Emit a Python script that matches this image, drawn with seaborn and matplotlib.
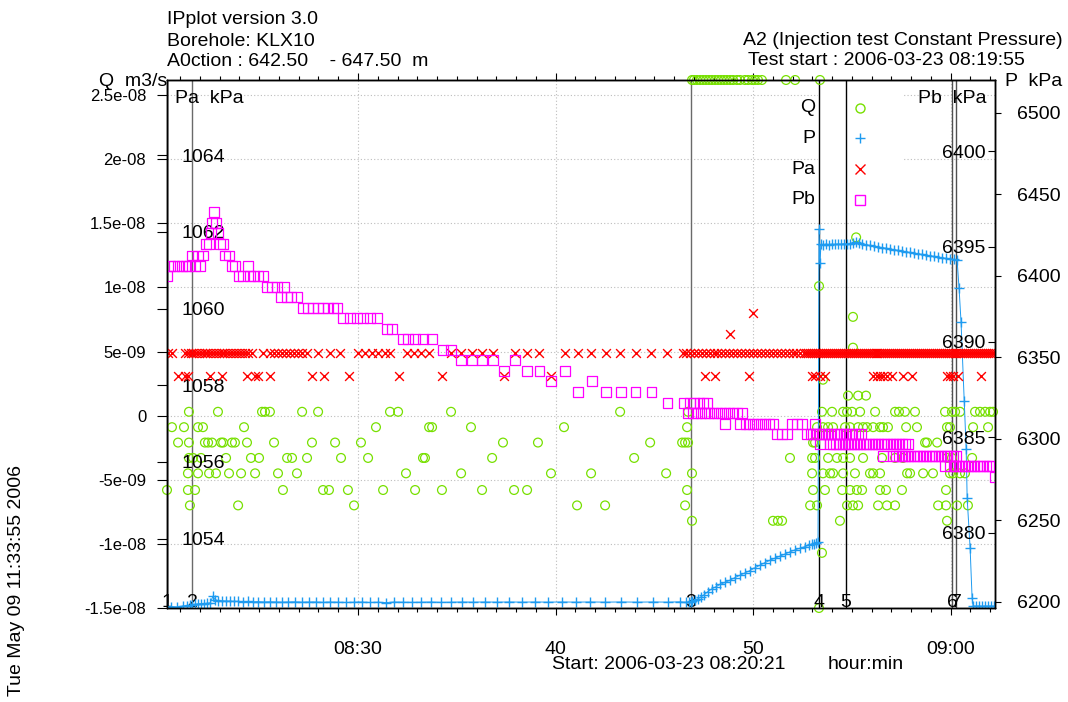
import pandas as pd
import matplotlib
matplotlib.use("Agg")
import matplotlib.pyplot as plt
from matplotlib.patches import Rectangle
from matplotlib.ticker import MultipleLocator
import seaborn as sns

# time axis: minutes after 08:00 (2006-03-23)
T_MIN, T_MAX = 20.33, 62.25
X_TICKS = [30, 40, 50, 60]
X_TICKLABELS = ["08:30", "40", "50", "09:00"]

# event lines 1..7
EVENT_T = [20.33, 21.60, 46.86, 53.34, 54.71, 60.08, 60.28]
EVENT_LABELS = ["1", "2", "3", "4", "5", "6", "7"]
EVENT_COLORS = ["black", "#6a6a6a", "#6a6a6a", "black", "black", "#505050", "#505050"]

# ---- Q (flow), read in units of 1e-9 m3/s; logger values are quantised
Q_LEVELS = [0.3, -0.9, -2.1, -3.3, -4.5, -5.8, -7.0, -8.2]
Q_T0 = [21.44, 22.91, 25.14, 25.29, 25.54, 27.17, 27.98, 31.62, 32.03, 34.71, 43.27, 46.71,
        53.49, 54.00, 54.56, 54.76, 55.01, 55.42, 56.18, 57.19, 57.39, 57.69, 58.20, 59.72,
        60.07, 60.23, 60.48, 61.24, 61.49, 61.75, 62.00, 62.15]
Q_T1 = [20.58, 21.19, 21.90, 22.15, 24.23, 30.91, 33.60, 33.75, 35.72, 40.43, 46.66, 53.24,
        53.54, 53.80, 54.05, 54.66, 54.91, 55.32, 55.57, 55.77, 56.08, 56.43, 56.58, 56.83,
        57.75, 58.30, 59.82, 59.97, 61.14, 61.90]
Q_T2 = [20.89, 21.44, 22.25, 22.41, 22.61, 23.07, 23.17, 23.62, 23.77, 24.38, 25.75, 27.67,
        28.84, 30.15, 37.34, 39.11, 44.79, 46.41, 46.56, 46.71, 53.04, 53.14, 58.71, 58.81, 59.32]
Q_T3 = [21.44, 21.65, 22.05, 23.32, 24.58, 24.99, 26.41, 26.66, 27.42, 29.14, 30.51, 33.29,
        33.39, 36.79, 43.98, 51.87, 52.99, 53.14, 53.80, 54.25, 54.56, 54.91, 55.57, 56.53,
        57.19, 57.59, 59.82, 60.07, 61.09]
Q_T4 = [21.39, 21.90, 22.46, 22.81, 23.47, 24.08, 24.79, 25.95, 26.91, 32.43, 35.22, 39.77,
        41.80, 45.60, 46.91, 52.99, 53.54, 53.90, 54.05, 54.56, 55.16, 55.92, 56.08, 56.43,
        57.80, 57.95, 58.61, 59.11, 59.97, 60.13, 60.48, 60.73]
Q_T5 = [20.33, 21.39, 21.75, 26.20, 28.23, 28.53, 29.49, 31.27, 32.89, 34.25, 36.28, 37.90,
        38.56, 46.66, 53.04, 53.64, 54.51, 54.91, 55.26, 55.52, 56.43, 56.73, 57.54, 59.77]
Q_T6 = [21.49, 23.93, 29.80, 41.09, 42.51, 46.56, 52.89, 53.24, 54.76, 55.06, 55.32, 56.33,
        56.78, 57.19, 59.37, 59.77, 60.33, 60.88]
Q_T7 = [46.91, 51.01, 51.26, 51.47, 54.40, 59.82]
# single readings off the quantised rows
Q_ODD_T = [53.49, 53.54, 54.81, 55.32, 55.72, 55.06, 55.06, 53.34, 55.22, 53.34]
Q_ODD = [-10.7, 2.8, 1.56, 1.56, 1.56, 5.3, 7.7, 10.1, 13.9, -15.0]
# readings pinned at the top of the scale
Q_TOP_T = [46.91, 47.01, 47.16, 47.32, 47.47, 47.62, 47.77, 47.92, 48.08, 48.23, 48.38, 48.53,
           48.68, 48.84, 48.99, 49.19, 49.34, 49.59, 49.75, 49.95, 50.10, 50.25, 50.45, 51.67,
           52.13, 53.39]
Q_TOP = 26.17

Q_TICKS = [-15, -10, -5, 0, 5, 10, 15, 20, 25]
Q_TICKLABELS = ["-1.5e-08", "-1e-08", "-5e-09", "0", "5e-09", "1e-08", "1.5e-08", "2e-08", "2.5e-08"]

# ---- P (kPa)
P_T = [20.33, 20.53, 20.84, 21.14, 21.34, 21.50, 21.60, 21.75, 21.90, 22.05,
       22.20, 22.36, 22.51, 22.66, 22.76, 22.91, 23.12, 23.32, 23.52, 23.72,
       23.93, 24.18, 24.43, 24.69, 24.94, 25.24, 25.55, 25.85, 26.15, 26.46,
       26.81, 27.17, 27.52, 27.88, 28.23, 28.58, 28.99, 29.39, 29.80, 30.20,
       30.61, 31.01, 31.42, 31.82, 32.28, 32.74, 33.19, 33.70, 34.20, 34.71,
       35.27, 35.82, 36.43, 37.04, 37.65, 38.31, 38.96, 39.62, 40.33, 41.04,
       41.75, 42.51, 43.32, 44.13, 44.94, 45.70, 46.31, 46.61, 46.76, 46.86,
       46.91, 47.06, 47.22, 47.37, 47.52, 47.72, 47.93, 48.13, 48.33, 48.58,
       48.84, 49.09, 49.34, 49.60, 49.85, 50.10, 50.36, 50.61, 50.86, 51.12,
       51.37, 51.62, 51.88, 52.13, 52.38, 52.63, 52.84, 52.99, 53.09, 53.19, 53.29,
       53.34, 53.39, 53.44, 53.55, 53.70, 53.85, 54.00, 54.15, 54.31, 54.46,
       54.61, 54.76, 54.91, 55.07, 55.22, 55.37, 55.52, 55.72, 55.93, 56.13,
       56.33, 56.53, 56.74, 56.94, 57.14, 57.34, 57.55, 57.75, 57.95, 58.15,
       58.36, 58.56, 58.76, 58.96, 59.17, 59.37, 59.57, 59.77, 59.98, 60.18, 60.33,
       60.43, 60.53, 60.69, 60.79, 60.84, 60.99, 61.09, 61.14, 61.29, 61.44,
       61.60, 61.75, 61.90, 62.05, 62.20]
P_KPA = [6197.2, 6197.2, 6197.0, 6197.6, 6197.8, 6198.0, 6198.2, 6198.6, 6198.8, 6199.0,
         6199.0, 6199.2, 6199.4, 6203.6, 6201.5, 6200.9, 6200.8, 6200.6, 6200.6, 6200.4,
         6200.4, 6200.2, 6200.3, 6200.1, 6200.2, 6200.0, 6200.1, 6200.0, 6199.9, 6200.0,
         6200.1, 6199.9, 6200.0, 6200.0, 6199.8, 6200.0, 6199.9, 6199.7, 6199.9, 6200.0,
         6199.7, 6199.9, 6199.6, 6200.0, 6199.9, 6199.8, 6199.9, 6200.0, 6199.8, 6199.9,
         6200.0, 6199.9, 6200.0, 6199.9, 6200.0, 6199.9, 6200.0, 6199.9, 6200.0, 6199.9,
         6200.0, 6199.9, 6200.0, 6199.9, 6200.0, 6199.9, 6200.1, 6199.8, 6199.8, 6200.0,
         6200.3, 6201.0, 6202.0, 6203.2, 6204.4, 6206.4, 6208.2, 6209.4, 6210.8, 6212.0,
         6213.4, 6215.0, 6216.4, 6217.9, 6219.3, 6221.0, 6222.6, 6224.2, 6225.6, 6226.9,
         6228.2, 6229.4, 6230.8, 6232.0, 6233.0, 6234.0, 6234.8, 6235.4, 6235.8, 6236.2, 6236.6,
         6428.8, 6408.0, 6419.4, 6419.0, 6419.6, 6419.2, 6419.5, 6419.3, 6419.6, 6419.4,
         6419.8, 6419.5, 6419.9, 6420.3, 6420.8, 6420.2, 6419.6, 6419.2, 6418.7, 6418.3,
         6417.9, 6417.4, 6417.0, 6416.6, 6416.1, 6415.7, 6415.3, 6414.8, 6414.4, 6414.0,
         6413.6, 6413.2, 6412.8, 6412.4, 6412.0, 6411.6, 6411.2, 6410.8, 6410.5, 6410.1, 6409.8,
         6392.6, 6371.8, 6323.3, 6293.9, 6263.8, 6233.1, 6202.5, 6197.6, 6197.4, 6197.5,
         6197.3, 6197.5, 6197.4, 6197.5, 6197.4]
P_TICKS = [6200, 6250, 6300, 6350, 6400, 6450, 6500]

# ---- Pa (kPa), two quantised levels plus two odd readings
PA_HIGH = 1058.84
PA_LOW = 1058.24
PA_HIGH_T = [20.36, 20.58, 21.24, 21.38, 21.52, 21.66, 21.80, 21.95, 22.09, 22.23, 22.38,
             22.52, 22.66, 22.81, 22.95, 23.10, 23.24, 23.39, 23.54, 23.68, 23.83, 23.98,
             24.13, 24.28, 24.43, 24.63, 25.19, 25.55, 25.75, 25.95, 26.15, 26.36, 26.56,
             26.76, 26.96, 27.17, 27.42, 27.98, 28.58, 29.09, 30.00, 30.36, 30.71, 31.01,
             31.37, 31.62, 32.48, 32.84, 33.19, 33.60, 34.71, 35.22, 35.77, 36.28, 36.84,
             37.95, 38.56, 39.17, 40.48, 41.14, 41.80, 42.56, 43.27, 44.08, 44.84, 45.65,
             46.46, 46.6, 46.8, 47.0, 47.2, 47.4, 47.6, 47.8, 48.0, 48.2, 48.4, 48.6, 48.8,
             49.0, 49.2, 49.4, 49.6, 49.8, 50.0, 50.2, 50.4, 50.6, 50.8, 51.0, 51.2, 51.4,
             51.6, 51.8, 52.0, 52.2, 52.4, 52.6, 52.7, 52.8, 52.9, 53.0, 53.1, 53.2, 53.3,
             53.4, 53.5, 53.6, 53.7, 53.8, 53.9, 54.0, 54.1, 54.2, 54.3, 54.4, 54.5, 54.6,
             54.7, 54.8, 54.9, 55.0, 55.1, 55.2, 55.3, 55.4, 55.5, 55.6, 55.7, 55.8, 55.9,
             56.0, 56.1, 56.2, 56.3, 56.4, 56.5, 56.6, 56.7, 56.8, 56.9, 57.0, 57.1, 57.2,
             57.3, 57.4, 57.5, 57.6, 57.7, 57.8, 57.9, 58.0, 58.1, 58.2, 58.3, 58.4, 58.5,
             58.6, 58.7, 58.8, 58.9, 59.0, 59.1, 59.2, 59.3, 59.4, 59.5, 59.6, 59.7, 59.8,
             59.9, 60.0, 60.1, 60.2, 60.3, 60.4, 60.5, 60.6, 60.7, 60.8, 60.9, 61.0, 61.1,
             61.2, 61.3, 61.4, 61.5, 61.6, 61.7, 61.8, 61.9, 62.0, 62.1, 62.2]
PA_LOW_T = [20.89, 21.24, 21.39, 22.51, 23.12, 24.38, 24.79, 24.94, 25.55, 27.67, 28.28,
            29.55, 32.08, 34.25, 37.39, 39.77, 47.57, 48.08, 49.80, 52.99, 53.14, 53.39,
            53.65, 56.08, 56.28, 56.43, 56.58, 56.78, 57.04, 57.59, 58.05, 59.82, 59.97,
            60.13, 60.38, 61.54]
PA_ODD_T = [48.84, 50.00]
PA_ODD = [1059.33, 1059.88]
PA_TICKS = [1054, 1056, 1058, 1060, 1062, 1064]

# ---- Pb (kPa), single readings up to ~08:53
PB_T = [20.33, 20.48, 20.68, 20.89, 21.09, 21.29, 21.44, 21.60, 21.75, 21.90, 22.00, 22.15,
        22.30, 22.46, 22.56, 22.61, 22.71, 22.81, 22.91, 23.01, 23.17, 23.27, 23.47, 23.62, 23.77, 23.93,
        24.18, 24.43, 24.53, 24.74, 24.94, 25.19, 25.39, 25.65, 25.90, 26.10, 26.25, 26.41, 26.61, 26.91, 27.22, 27.47,
        27.72, 27.98, 28.23, 28.48, 28.74, 28.94, 29.24, 29.60, 29.95, 30.25, 30.61, 30.96, 31.47, 31.72, 32.28, 32.53,
        32.89, 33.29, 33.75, 34.30, 34.71, 35.22, 35.77, 36.28, 36.84, 37.39, 37.95, 38.56, 39.17, 39.77, 40.48, 41.14,
        41.85, 42.56, 43.32, 44.03, 44.84, 45.65, 46.46, 46.71,
        46.81, 46.96, 47.01, 47.16, 47.27, 47.37, 47.47, 47.57, 47.67, 47.77, 47.98, 48.18, 48.38, 48.58, 48.58, 48.78,
        48.99, 49.19, 49.34, 49.44, 49.60,
        49.80, 50.00, 50.20, 50.40, 50.61, 50.81, 51.01, 51.21, 51.47, 51.72, 51.97, 52.23, 52.48, 52.73, 52.89, 53.04,
        53.14]
PB_KPA = [6393.46, 6393.98, 6393.98, 6393.98, 6393.98, 6393.98, 6393.98, 6394.55, 6393.98, 6394.55, 6393.98, 6394.55,
          6395.13, 6395.13, 6395.71, 6396.23, 6396.81, 6396.23, 6395.71, 6395.13, 6395.13, 6394.55, 6394.55, 6393.98, 6393.98, 6393.46,
          6393.46, 6393.98, 6393.46, 6393.46, 6393.46, 6393.46, 6392.88, 6392.88, 6392.88, 6392.36, 6392.88, 6392.36, 6392.36, 6392.36, 6391.78, 6391.78,
          6391.78, 6391.78, 6391.78, 6391.78, 6391.78, 6391.78, 6391.26, 6391.26, 6391.26, 6391.26, 6391.26, 6391.26, 6390.68, 6390.68, 6390.16, 6390.16,
          6390.16, 6390.16, 6390.16, 6389.58, 6389.58, 6389.06, 6389.06, 6389.06, 6389.06, 6388.48, 6389.06, 6388.48, 6388.48, 6387.96, 6388.48, 6387.38,
          6387.96, 6387.38, 6387.38, 6387.38, 6387.38, 6386.81, 6386.81, 6386.28,
          6386.81, 6386.28, 6386.81, 6386.28, 6386.81, 6386.28, 6386.81, 6386.28, 6386.81, 6386.28, 6386.28, 6386.28, 6386.28, 6385.71, 6386.28, 6386.28,
          6386.28, 6386.28, 6385.71, 6386.28, 6385.71,
          6385.71, 6385.71, 6385.71, 6385.71, 6385.71, 6385.71, 6385.71, 6385.18, 6385.18, 6385.18, 6385.71, 6385.71, 6385.71, 6385.18, 6385.18, 6385.18,
          6385.71]
# Pb late part: dense logging, rows of constant (quantised) value
PB_ROW_LEVELS = [6385.18, 6384.66, 6384.03, 6383.51, 6382.93]
PB_ROW_T1 = [53.19, 53.34, 53.49, 53.65, 53.80, 53.95, 54.10, 54.25, 54.40, 54.56, 54.71, 54.86,
             55.01, 55.16, 55.32, 55.47]
PB_ROW_T2 = [53.39, 53.90, 54.05, 54.20, 54.35, 54.51, 54.66, 54.81, 54.96, 55.11, 55.26, 55.42,
             55.57, 55.72, 55.87, 56.03, 56.18, 56.33, 56.48, 56.63, 56.78, 56.94, 57.09, 57.24,
             57.39, 57.54, 57.69, 57.85]
PB_ROW_T3 = [56.58, 57.09, 57.24, 57.39, 57.54, 57.69, 57.85, 57.99, 58.15, 58.30, 58.45, 58.61,
             58.76, 58.91, 59.06, 59.21, 59.37, 59.52, 59.67, 59.82, 59.97, 60.13, 60.28]
PB_ROW_T4 = [59.72, 59.97, 60.13, 60.28, 60.43, 60.58, 60.73, 60.88, 61.04, 61.19, 61.34, 61.49,
             61.64, 61.80, 61.95, 62.10]
PB_ROW_T5 = [62.25]
PB_TICKS = [6380, 6385, 6390, 6395, 6400]

GREEN = "#77e000"
BLUE = "#1e9bf0"
RED = "#ff0000"
MAGENTA = "#ff00ff"
FS = 14

# ---------------------------------------------------------------- frames
q_df = pd.concat(
    [pd.DataFrame({"t": times, "q": level})
     for level, times in zip(Q_LEVELS, [Q_T0, Q_T1, Q_T2, Q_T3, Q_T4, Q_T5, Q_T6, Q_T7])]
    + [pd.DataFrame({"t": Q_ODD_T, "q": Q_ODD}), pd.DataFrame({"t": Q_TOP_T, "q": Q_TOP})],
    ignore_index=True,
)
q_df["q"] = q_df["q"] * 1e-9

pa_df = pd.concat([
    pd.DataFrame({"t": PA_HIGH_T, "pa": PA_HIGH}),
    pd.DataFrame({"t": PA_LOW_T, "pa": PA_LOW}),
    pd.DataFrame({"t": PA_ODD_T, "pa": PA_ODD}),
], ignore_index=True)

pb_df = pd.concat(
    [pd.DataFrame({"t": PB_T, "pb": PB_KPA})]
    + [pd.DataFrame({"t": times, "pb": level})
       for level, times in zip(PB_ROW_LEVELS, [PB_ROW_T1, PB_ROW_T2, PB_ROW_T3, PB_ROW_T4, PB_ROW_T5])],
    ignore_index=True,
)

# ---------------------------------------------------------------- figure
sns.set_style("ticks", {"axes.edgecolor": "black", "xtick.color": "black",
                        "ytick.color": "black", "text.color": "black"})
plt.rcParams["font.family"] = ["Liberation Sans", "DejaVu Sans"]
plt.rcParams["axes.linewidth"] = 0.9

fig = plt.figure(figsize=(10.68, 7.02), dpi=100)
ax = fig.add_axes([167 / 1068, 94 / 702, 828 / 1068, 528 / 702])
ax_p = ax.twinx()
ax_pa = ax.twinx()
ax_pb = ax.twinx()

# Q
sns.scatterplot(data=q_df, x="t", y="q", marker="o", s=40, color=GREEN, facecolor="none",
                edgecolor=GREEN, linewidth=0.9, legend=False, clip_on=False, zorder=3, ax=ax)
ax.set_xlim(T_MIN, T_MAX)
ax.set_ylim(-15.0e-9, 26.17e-9)
ax.set_xticks(X_TICKS)
ax.set_xticklabels(X_TICKLABELS)
ax.xaxis.set_minor_locator(MultipleLocator(1))
ax.tick_params(axis="x", which="major", direction="out", length=5, width=0.8, top=True,
               labelsize=FS, pad=19)
ax.tick_params(axis="x", which="minor", direction="out", length=3, width=0.8, top=True)
ax.set_yticks([v * 1e-9 for v in Q_TICKS])
ax.set_yticklabels(Q_TICKLABELS)
ax.tick_params(axis="y", direction="out", length=7, width=0.8, labelsize=12, pad=8)
ax.grid(True, which="major", linestyle=(0, (1, 2)), color="#bdbdbd", linewidth=0.8)
ax.set_axisbelow(True)
ax.set_xlabel("")
ax.set_ylabel("")
# legend area is kept clear of grid lines
ax.add_patch(Rectangle((0.786, 0.744), 0.103, 0.246, transform=ax.transAxes,
                       facecolor="white", edgecolor="none", zorder=0.8))

for t, lab, col in zip(EVENT_T, EVENT_LABELS, EVENT_COLORS):
    ax.axvline(t, color=col, linewidth=1.0, zorder=2)
    ax.text(t, 0.01, lab, transform=ax.get_xaxis_transform(), ha="center", va="center",
            fontsize=FS, zorder=6)

# P
sns.lineplot(x=P_T, y=P_KPA, color=BLUE, linewidth=0.7, marker="+", markersize=7,
             markeredgewidth=1.0, markeredgecolor=BLUE, estimator=None, sort=False,
             legend=False, ax=ax_p)
ax_p.set_ylim(6196.3, 6520.2)
ax_p.set_yticks(P_TICKS)
ax_p.set_yticklabels([str(v) for v in P_TICKS])
ax_p.tick_params(axis="y", direction="out", length=4, width=0.8, labelsize=FS, pad=12)
ax_p.set_ylabel("")

# Pa
sns.scatterplot(data=pa_df, x="t", y="pa", marker="x", s=40, color=RED, linewidth=1.0,
                legend=False, ax=ax_pa)
ax_pa.set_ylim(1052.19, 1065.96)
ax_pa.yaxis.tick_left()
ax_pa.set_yticks(PA_TICKS)
ax_pa.set_yticklabels([str(v) for v in PA_TICKS])
ax_pa.tick_params(axis="y", direction="out", length=7, width=0.8, labelsize=FS, pad=-49)
ax_pa.set_ylabel("")

# Pb
sns.scatterplot(data=pb_df, x="t", y="pb", marker="s", s=44, color=MAGENTA, facecolor="none",
                edgecolor=MAGENTA, linewidth=0.9, legend=False, ax=ax_pb)
ax_pb.set_ylim(6376.07, 6403.72)
ax_pb.set_yticks(PB_TICKS)
ax_pb.set_yticklabels([str(v) for v in PB_TICKS], ha="right")
ax_pb.tick_params(axis="y", direction="in", length=5, width=0.8, labelsize=FS, pad=-7)
ax_pb.set_ylabel("")

for a in (ax_p, ax_pa, ax_pb):
    a.set_xlim(T_MIN, T_MAX)
    a.set_xlabel("")

# legend
LEGEND_NAMES = ["Q", "P", "Pa", "Pb"]
legend_y = [0.947, 0.890, 0.831, 0.773]
legend_style = [("o", GREEN, "none"), ("+", BLUE, BLUE), ("x", RED, RED), ("s", MAGENTA, "none")]
for name, ly, (mk, col, fc) in zip(LEGEND_NAMES, legend_y, legend_style):
    ax_pb.text(0.7826, ly, name, transform=ax_pb.transAxes, ha="right", va="center", fontsize=FS)
    ax_pb.plot([0.837], [ly], transform=ax_pb.transAxes, marker=mk, markersize=6.5,
               markeredgecolor=col, markerfacecolor=fc, markeredgewidth=1.0,
               linestyle="none", clip_on=False)

# header and axis titles
fig.text(167 / 1068, 1 - 24 / 702, "IPplot version 3.0", fontsize=FS, va="baseline")
fig.text(167 / 1068, 1 - 46 / 702, "Borehole: KLX10", fontsize=FS, va="baseline")
fig.text(167 / 1068, 1 - 66 / 702, "A0ction : 642.50    - 647.50  m", fontsize=FS, va="baseline")
fig.text(1063 / 1068, 1 - 45 / 702, "A2 (Injection test Constant Pressure)", fontsize=FS,
         ha="right", va="baseline")
fig.text(748 / 1068, 1 - 65 / 702, "Test start : 2006-03-23 08:19:55", fontsize=FS, va="baseline")
fig.text(167 / 1068, 1 - 86 / 702, "Q  m3/s", fontsize=FS, ha="right", va="baseline")
fig.text(1005 / 1068, 1 - 86 / 702, "P  kPa", fontsize=FS, va="baseline")
fig.text(175 / 1068, 1 - 103 / 702, "Pa  kPa", fontsize=FS, va="baseline")
fig.text(987 / 1068, 1 - 103 / 702, "Pb  kPa", fontsize=FS, ha="right", va="baseline")
fig.text(552 / 1068, 1 - 669 / 702, "Start: 2006-03-23 08:20:21", fontsize=FS, va="baseline")
fig.text(828 / 1068, 1 - 669 / 702, "hour:min", fontsize=FS, va="baseline")
fig.text(17 / 1068, 1 - 581 / 702, "Tue May 09 11:33:55 2006", fontsize=FS, rotation=90,
         ha="center", va="center")

fig.savefig("out.png", dpi=100)
plt.close(fig)
